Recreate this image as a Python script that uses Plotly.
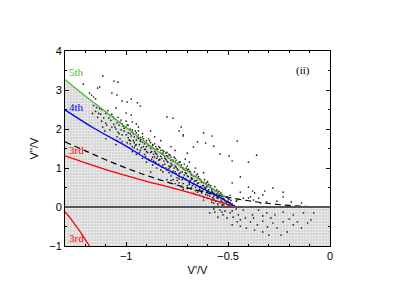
import plotly.graph_objects as go

# ---- curves ----
green_x = [-1.30, -1.233, -1.10, -1.01, -0.837, -0.787, -0.65, -0.525]
green_y = [3.27, 2.98, 2.44, 2.08, 1.40, 1.24, 0.74, 0.28]

blue_x = [-1.30, -1.158, -1.0, -0.90, -0.787, -0.65, -0.515, -0.465]
blue_y = [2.49, 2.02, 1.56, 1.24, 0.93, 0.54, 0.17, 0.00]

dash_x = [-1.30, -1.20, -1.10, -1.00, -0.90, -0.80, -0.70, -0.60, -0.50, -0.40, -0.30, -0.20, -0.10, 0.0]
dash_y = [1.67, 1.44, 1.21, 1.00, 0.81, 0.64, 0.49, 0.36, 0.25, 0.16, 0.09, 0.04, 0.01, 0.0]

red_x = [-1.30, -1.20, -1.10, -1.03, -0.90, -0.76, -0.60, -0.465]
red_y = [1.31, 1.13, 0.96, 0.85, 0.66, 0.47, 0.23, 0.00]

red2_x = [-1.30, -1.275, -1.25, -1.23, -1.21, -1.18]
red2_y = [-0.12, -0.28, -0.46, -0.60, -0.76, -1.00]

# ---- scattered points ----
upper_points = [
    (-1.114, 3.36), (-1.06, 3.23), (-1.04, 3.20), (-1.13, 3.08), (-1.14, 3.05),
    (-1.07, 2.92), (-1.045, 2.87), (-1.16, 2.82), (-0.975, 2.77), (-0.945, 2.67),
    (-0.93, 2.59), (-1.21, 3.15), (-1.17, 2.87), (-1.18, 2.92), (-1.15, 2.77),
    (-1.02, 2.72), (-0.995, 2.69), (-1.05, 2.54), (-1.0, 2.41), (-0.975, 2.36),
    (-0.97, 2.18), (-0.95, 2.13), (-0.94, 2.05), (-0.995, 2.10), (-1.025, 2.23),
    (-0.80, 2.31), (-0.77, 2.28), (-0.73, 2.05), (-0.72, 1.85), (-0.74, 1.95),
    (-0.72, 1.82), (-0.62, 1.90), (-0.58, 1.82), (-0.65, 1.67), (-0.61, 1.64),
    (-0.67, 1.54), (-0.57, 1.56), (-0.455, 1.69), (-0.70, 1.38), (-0.54, 1.36),
    (-0.495, 1.31), (-0.36, 1.33), (-0.71, 1.23), (-0.48, 1.18), (-0.40, 1.15),
    (-0.44, 0.77), (-0.48, 0.62), (-0.40, 0.51), (-0.38, 0.41), (-0.37, 0.36),
    (-0.32, 0.41), (-0.28, 0.49), (-0.23, 0.38), (-0.33, 0.31), (-0.44, 0.38),
    (-0.23, 0.26), (-0.35, 0.23), (-0.40, 0.23), (-0.425, 0.23), (-0.375, 0.18),
    (-0.31, 0.13), (-0.26, 0.15), (-0.19, 0.13), (-0.14, 0.10), (-0.39, 0.26),
    (-0.455, 0.18), (-0.34, 0.10), (-0.88, 1.95), (-0.86, 1.80), (-0.83, 1.70),
    (-0.78, 1.55), (-0.76, 1.45), (-0.69, 1.15), (-0.66, 1.00), (-0.62, 0.88),
]

band_points = [
    (-1.15, 2.45), (-1.14, 2.30), (-1.16, 2.60), (-1.13, 2.52),
    (-1.10, 2.40), (-1.11, 2.28), (-1.09, 2.47), (-1.10, 2.15), (-1.08, 2.35), (-1.12, 2.50),
    (-1.05, 2.25), (-1.06, 2.12), (-1.04, 2.30), (-1.05, 2.00), (-1.03, 2.18), (-1.07, 2.38),
    (-1.04, 1.92), (-1.06, 2.27),
    (-1.00, 2.05), (-1.01, 1.95), (-0.99, 2.10), (-1.00, 1.85), (-0.98, 2.00), (-1.02, 2.14),
    (-0.99, 1.78), (-1.01, 2.02), (-0.97, 1.93), (-1.00, 2.20),
    (-0.95, 1.90), (-0.96, 1.80), (-0.94, 1.85), (-0.95, 1.72), (-0.93, 1.78), (-0.96, 1.65),
    (-0.94, 1.95), (-0.92, 1.88), (-0.97, 1.98), (-0.95, 1.60), (-0.93, 1.68), (-0.96, 1.52),
    (-0.90, 1.70), (-0.91, 1.62), (-0.89, 1.75), (-0.90, 1.55), (-0.88, 1.65), (-0.91, 1.48),
    (-0.89, 1.58), (-0.90, 1.42), (-0.92, 1.80), (-0.88, 1.50), (-0.87, 1.60), (-0.91, 1.35),
    (-0.85, 1.50), (-0.86, 1.42), (-0.84, 1.55), (-0.85, 1.35), (-0.83, 1.45), (-0.86, 1.28),
    (-0.84, 1.20), (-0.82, 1.38), (-0.87, 1.58), (-0.85, 1.25), (-0.83, 1.30), (-0.86, 1.62),
    (-0.80, 1.32), (-0.81, 1.25), (-0.79, 1.35), (-0.80, 1.18), (-0.78, 1.28), (-0.81, 1.10),
    (-0.79, 1.05), (-0.80, 1.40), (-0.77, 1.20), (-0.82, 1.45), (-0.80, 0.95), (-0.78, 1.12),
    (-0.75, 1.12), (-0.76, 1.05), (-0.74, 1.15), (-0.75, 0.98), (-0.73, 1.08), (-0.76, 0.90),
    (-0.74, 0.85), (-0.75, 0.75), (-0.77, 0.70), (-0.72, 1.00), (-0.76, 1.25), (-0.74, 0.62),
    (-0.70, 0.95), (-0.71, 0.88), (-0.69, 0.92), (-0.70, 0.80), (-0.68, 0.85), (-0.71, 0.72),
    (-0.69, 0.65), (-0.70, 0.55), (-0.72, 0.50), (-0.68, 0.75), (-0.70, 1.05), (-0.67, 0.60),
    (-0.65, 0.75), (-0.66, 0.68), (-0.64, 0.72), (-0.65, 0.60), (-0.63, 0.65), (-0.66, 0.50),
    (-0.64, 0.45), (-0.65, 0.38), (-0.67, 0.35), (-0.62, 0.55), (-0.65, 0.85), (-0.63, 0.42),
    (-0.60, 0.55), (-0.61, 0.48), (-0.59, 0.52), (-0.60, 0.40), (-0.58, 0.45), (-0.61, 0.32),
    (-0.59, 0.28), (-0.60, 0.22), (-0.62, 0.25), (-0.57, 0.35), (-0.60, 0.65), (-0.58, 0.18),
    (-0.55, 0.38), (-0.56, 0.30), (-0.54, 0.33), (-0.55, 0.22), (-0.53, 0.27), (-0.56, 0.15),
    (-0.54, 0.12), (-0.55, 0.08), (-0.52, 0.20), (-0.57, 0.10), (-0.53, 0.05),
    (-0.50, 0.15), (-0.51, 0.10), (-0.49, 0.12), (-0.50, 0.05), (-0.48, 0.08), (-0.52, 0.02),
    (-0.47, 0.04), (-0.50, 0.22), (-0.46, 0.15), (-0.49, 0.30),
    (-0.95, 1.35), (-0.90, 1.15), (-0.85, 1.00), (-0.82, 0.90), (-0.78, 0.80), (-0.75, 0.68),
    (-0.72, 0.60), (-0.70, 0.48), (-0.68, 0.50), (-0.66, 0.42), (-0.80, 0.70), (-0.76, 0.60),
    (-0.73, 0.52), (-1.05, 1.60), (-1.10, 1.75), (-0.88, 0.90), (-0.64, 0.30),
    (-1.12, 2.20), (-1.125, 2.38), (-1.115, 2.05),
    (-1.07, 2.05), (-1.075, 2.22), (-1.065, 2.32), (-1.08, 1.98),
    (-1.02, 1.85), (-1.025, 1.98), (-1.015, 2.08), (-1.03, 1.75), (-1.02, 1.68),
    (-0.98, 1.88), (-0.985, 1.72), (-0.975, 1.82), (-0.98, 1.62), (-0.99, 1.90), (-0.97, 1.55),
    (-0.93, 1.72), (-0.935, 1.60), (-0.925, 1.52), (-0.93, 1.45), (-0.94, 1.76), (-0.92, 1.66),
    (-0.935, 1.40),
    (-0.87, 1.52), (-0.875, 1.42), (-0.865, 1.35), (-0.87, 1.28), (-0.88, 1.55), (-0.86, 1.48),
    (-0.875, 1.22), (-0.865, 1.18),
    (-0.82, 1.35), (-0.825, 1.25), (-0.815, 1.18), (-0.82, 1.08), (-0.83, 1.38), (-0.81, 1.30),
    (-0.825, 1.02), (-0.815, 1.42),
    (-0.77, 1.18), (-0.775, 1.08), (-0.765, 1.00), (-0.77, 0.92), (-0.78, 1.20), (-0.76, 1.15),
    (-0.775, 0.88), (-0.765, 1.28),
    (-0.72, 0.98), (-0.725, 0.90), (-0.715, 0.82), (-0.72, 0.76), (-0.73, 1.02), (-0.71, 0.95),
    (-0.725, 0.70), (-0.715, 1.10),
    (-0.67, 0.80), (-0.675, 0.72), (-0.665, 0.66), (-0.67, 0.60), (-0.68, 0.82), (-0.66, 0.78),
    (-0.675, 0.55), (-0.665, 0.90),
    (-0.62, 0.62), (-0.625, 0.55), (-0.615, 0.50), (-0.62, 0.45), (-0.63, 0.64), (-0.61, 0.60),
    (-0.625, 0.40), (-0.615, 0.70),
    (-0.57, 0.45), (-0.575, 0.38), (-0.565, 0.33), (-0.57, 0.28), (-0.58, 0.48), (-0.56, 0.42),
    (-0.575, 0.24), (-0.565, 0.52),
    (-0.52, 0.28), (-0.525, 0.22), (-0.515, 0.16), (-0.52, 0.10), (-0.51, 0.25), (-0.53, 0.32),
    (-0.525, 0.06),
    (-0.97, 1.42), (-0.92, 1.25), (-0.87, 1.08), (-0.83, 0.95), (-0.79, 0.88), (-0.74, 0.72),
    (-0.69, 0.58), (-0.63, 0.36), (-0.60, 0.30), (-0.57, 0.20), (-0.78, 0.68), (-0.72, 0.45),
    (-0.66, 0.32), (-0.62, 0.18), (-0.58, 0.12), (-0.55, 0.02),
    # densest part of the band (just below green)
    (-1.035, 2.10), (-1.045, 2.16), (-1.055, 2.05), (-0.965, 1.88), (-0.955, 1.95), (-0.945, 1.80),
    (-0.915, 1.75), (-0.905, 1.66), (-0.895, 1.62), (-0.885, 1.70), (-0.855, 1.55), (-0.845, 1.48),
    (-0.835, 1.52), (-0.805, 1.38), (-0.795, 1.30), (-0.785, 1.33), (-0.755, 1.20), (-0.745, 1.10),
    (-0.735, 1.15), (-0.705, 1.00), (-0.695, 0.97), (-0.685, 0.90), (-0.655, 0.82), (-0.645, 0.78),
    (-0.635, 0.70), (-0.605, 0.62), (-0.595, 0.58), (-0.585, 0.55), (-0.555, 0.44), (-0.545, 0.40),
    (-0.535, 0.36), (-0.505, 0.26), (-0.495, 0.20), (-0.485, 0.17),
    (-1.035, 1.88), (-1.045, 1.80), (-0.965, 1.70), (-0.955, 1.58), (-0.915, 1.55), (-0.905, 1.48),
    (-0.895, 1.40), (-0.855, 1.38), (-0.845, 1.30), (-0.835, 1.22), (-0.805, 1.22), (-0.795, 1.15),
    (-0.785, 1.02), (-0.755, 1.02), (-0.745, 0.95), (-0.735, 0.88), (-0.705, 0.86), (-0.695, 0.78),
    (-0.685, 0.68), (-0.655, 0.68), (-0.645, 0.62), (-0.635, 0.52), (-0.605, 0.52), (-0.595, 0.44),
    (-0.585, 0.36), (-0.555, 0.34), (-0.545, 0.26), (-0.535, 0.18), (-0.505, 0.12), (-0.495, 0.06),
    (-0.905, 1.30), (-0.855, 1.15), (-0.805, 1.00), (-0.755, 0.85), (-0.705, 0.70), (-0.655, 0.55),
    (-0.605, 0.38), (-0.555, 0.24), (-0.945, 1.48), (-0.995, 1.65), (-1.045, 1.70), (-0.74, 0.78),
    (-0.69, 0.62), (-0.64, 0.50), (-0.59, 0.34), (-0.84, 1.10), (-0.79, 0.98), (-0.89, 1.22),
    (-0.98, 1.70), (-0.88, 1.40), (-0.78, 1.05), (-0.68, 0.72), (-0.58, 0.40), (-0.53, 0.14),
    (-1.085, 2.28), (-1.095, 2.10), (-1.135, 2.40), (-1.145, 2.55), (-1.105, 1.95), (-1.165, 2.40),
]

lower_points = [
    (-0.59, -0.15), (-0.565, -0.13), (-0.54, -0.08), (-0.515, -0.10), (-0.525, -0.20),
    (-0.49, -0.15), (-0.475, -0.26), (-0.45, -0.20), (-0.44, -0.33), (-0.415, -0.28),
    (-0.39, -0.38), (-0.375, -0.28), (-0.356, -0.46), (-0.33, -0.36), (-0.307, -0.51),
    (-0.28, -0.41), (-0.26, -0.54), (-0.23, -0.38), (-0.21, -0.64), (-0.18, -0.46),
    (-0.14, -0.54), (-0.11, -0.41), (-0.08, -0.15), (-0.425, -0.08), (-0.35, -0.08),
    (-0.31, -0.15), (-0.27, -0.20), (-0.23, -0.13), (-0.18, -0.20), (-0.13, -0.15),
    (-0.455, -0.38), (-0.48, -0.46), (-0.41, -0.54), (-0.37, -0.59), (-0.33, -0.64),
    (-0.24, -0.72), (-0.505, -0.28), (-0.55, -0.26), (-0.57, -0.05), (-0.46, -0.05),
    (-0.38, -0.20), (-0.33, -0.23), (-0.29, -0.28), (-0.20, -0.31), (-0.16, -0.38),
    (-0.094, -0.33), (-0.44, -0.49), (-0.30, -0.72), (-0.48, -0.10), (-0.53, -0.13),
]

pts = upper_points + band_points + lower_points
pts_x = [p[0] for p in pts]
pts_y = [p[1] for p in pts]

x_range = [-1.3, 0.0]
y_range = [-1.0, 4.0]

pattern = dict(shape=".", size=3, solidity=0.4, fgcolor="#f2f2f2", bgcolor="#d4d4d4", fillmode="replace")

fig = go.Figure()

# shaded region below the green boundary (above zero)
shade_x = [x_range[0]] + green_x + [blue_x[-1], x_range[0]]
shade_y = [0.0] + green_y + [blue_y[-1], 0.0]
fig.add_trace(go.Scatter(x=shade_x, y=shade_y, fill="toself", mode="none",
                         fillpattern=pattern, fillcolor="#d4d4d4", hoverinfo="skip"))
# shaded strip below zero
fig.add_trace(go.Scatter(x=[x_range[0], x_range[1], x_range[1], x_range[0]],
                         y=[y_range[0], y_range[0], 0.0, 0.0], fill="toself", mode="none",
                         fillpattern=pattern, fillcolor="#d4d4d4", hoverinfo="skip"))

fig.add_trace(go.Scatter(x=pts_x, y=pts_y, mode="markers",
                         marker=dict(size=1.7, color="#000000", opacity=0.85, line=dict(width=0))))

fig.add_trace(go.Scatter(x=dash_x, y=dash_y, mode="lines", line_shape="spline",
                         line=dict(color="black", width=1.2, dash="6px,4px")))
fig.add_trace(go.Scatter(x=red_x, y=red_y, mode="lines", line_shape="spline",
                         line=dict(color="#ff0000", width=1.3)))
fig.add_trace(go.Scatter(x=blue_x, y=blue_y, mode="lines", line_shape="spline",
                         line=dict(color="#0000ff", width=1.3)))
fig.add_trace(go.Scatter(x=green_x, y=green_y, mode="lines", line_shape="spline",
                         line=dict(color="#4cb82e", width=1.3)))
fig.add_trace(go.Scatter(x=red2_x, y=red2_y, mode="lines", line_shape="spline",
                         line=dict(color="#ff0000", width=1.3)))

fig.add_shape(type="line", xref="paper", x0=0, x1=1, yref="y", y0=0, y1=0,
              line=dict(color="#555555", width=2), layer="above")

serif = "Liberation Serif"
anns = [
    ("5th", -1.29, 3.45, "#4cb82e"),
    ("4th", -1.29, 2.57, "#0000ff"),
    ("3rd", -1.29, 1.47, "#ff0000"),
    ("3rd", -1.29, -0.80, "#ff0000"),
    ("(ii)", -0.09, 3.49, "black"),
]
for t, ax_, ay_, c in anns:
    fig.add_annotation(x=ax_, y=ay_, text=t, showarrow=False, xanchor="left" if t != "(ii)" else "right",
                       font=dict(family=serif, size=11, color=c))

axis_common = dict(showline=True, linecolor="black", linewidth=1, mirror="allticks",
                   ticks="inside", ticklen=4, tickcolor="black", showgrid=False, zeroline=False,
                   tickfont=dict(family="Liberation Sans", size=11, color="black"))

fig.update_xaxes(range=x_range, dtick=0.5, tick0=0,
                 minor=dict(ticks="inside", ticklen=2, dtick=0.1, tick0=0, tickcolor="black", showgrid=False),
                 title=dict(text="V'/V", font=dict(family="Liberation Sans", size=11, color="black"), standoff=5),
                 **axis_common)
fig.update_yaxes(range=y_range, dtick=1, tick0=0,
                 minor=dict(ticks="inside", ticklen=2, dtick=0.5, tick0=0, tickcolor="black", showgrid=False),
                 title=dict(text="V''/V", font=dict(family="Liberation Sans", size=11, color="black"), standoff=8),
                 **axis_common)

fig.update_layout(width=388, height=298, showlegend=False,
                  margin=dict(l=57, r=66, t=43, b=60),
                  paper_bgcolor="white", plot_bgcolor="white")

fig.write_html("out.html")
